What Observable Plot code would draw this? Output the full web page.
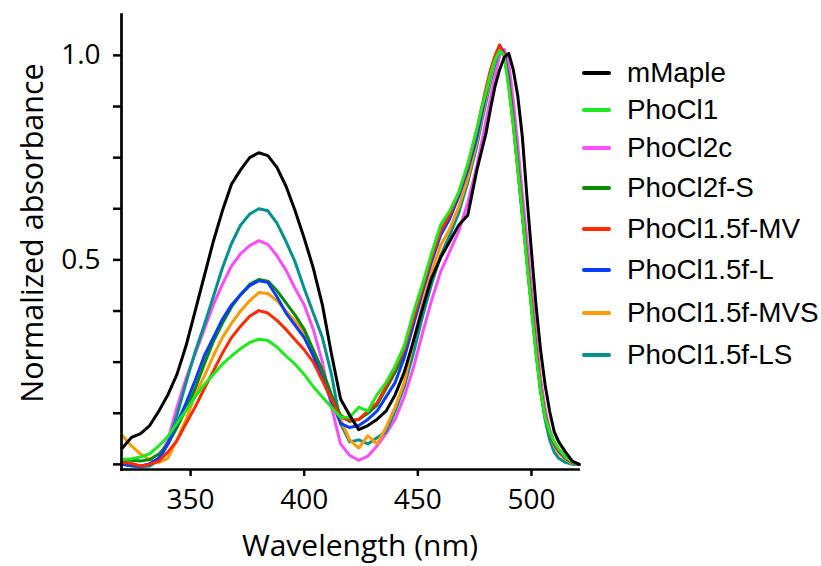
<!DOCTYPE html>
<html><head><meta charset="utf-8">
<script src="https://cdn.jsdelivr.net/npm/d3@7"></script>
<script src="https://cdn.jsdelivr.net/npm/@observablehq/plot@0.6"></script>
<style>
body{margin:0;background:#fff;}
#wrap{position:relative;width:821px;height:566px;overflow:hidden;}
.legline{position:absolute;height:4px;border-radius:2px;}
.legtext{position:absolute;font-family:"Liberation Sans",Arial,sans-serif;font-size:27.8px;line-height:30px;color:#000;white-space:nowrap;}
</style></head><body><div id="wrap"></div><script>
const wavelength = [320,324,328,332,336,340,344,348,352,356,
360,364,368,372,376,380,384,388,392,396,
400,404,408,412,416,420,424,428,432,436,
440,444,448,452,456,460,464,468,472,476,
478,480,482,484,486,488,490,492,494,496,
498,500,502,504,506,508,510,512,515,518,
521];

const seriesNames = ["mMaple","PhoCl1","PhoCl2c","PhoCl2f-S","PhoCl1.5f-MV","PhoCl1.5f-L","PhoCl1.5f-MVS","PhoCl1.5f-LS"];
const seriesColors = ["#000000","#1ee81e","#ff4cff","#078a07","#ff2a00","#0a3cff","#ff9a05","#00908f"];

const mMaple = [0.04,0.066,0.075,0.095,0.13,0.17,0.22,0.29,0.375,0.46,
0.545,0.62,0.685,0.72,0.75,0.762,0.755,0.726,0.68,0.62,
0.553,0.48,0.39,0.27,0.16,0.12,0.085,0.095,0.11,0.13,
0.17,0.225,0.3,0.38,0.455,0.505,0.545,0.585,0.61,0.72,
0.765,0.81,0.87,0.925,0.965,0.995,1.005,0.965,0.9,0.8,
0.655,0.52,0.39,0.28,0.195,0.13,0.08,0.055,0.03,0.008,
0.0];
const PhoCl1 = [0.012,0.014,0.018,0.026,0.045,0.068,0.1,0.132,0.165,0.195,
0.22,0.245,0.265,0.283,0.298,0.306,0.303,0.287,0.265,0.245,
0.22,0.19,0.165,0.14,0.115,0.115,0.14,0.13,0.17,0.2,
0.24,0.29,0.37,0.44,0.515,0.585,0.62,0.665,0.735,0.82,
0.87,0.91,0.955,0.99,1.012,1.0,0.92,0.83,0.72,0.61,
0.49,0.38,0.27,0.18,0.115,0.08,0.055,0.038,0.018,0.006,
0.0];
const PhoCl2c = [0.005,0.0,-0.003,0.0,0.015,0.06,0.14,0.21,0.27,0.33,
0.39,0.44,0.485,0.515,0.535,0.547,0.538,0.51,0.475,0.43,
0.39,0.33,0.25,0.14,0.05,0.022,0.01,0.02,0.045,0.075,
0.11,0.165,0.235,0.32,0.4,0.47,0.52,0.57,0.64,0.73,
0.785,0.84,0.895,0.95,1.0,1.015,0.98,0.89,0.78,0.66,
0.55,0.43,0.315,0.21,0.135,0.085,0.055,0.035,0.018,0.006,
0.0];
const PhoCl2fS = [0.01,0.01,0.008,0.012,0.025,0.05,0.09,0.135,0.185,0.245,
0.3,0.345,0.385,0.415,0.44,0.452,0.448,0.425,0.395,0.365,
0.33,0.28,0.23,0.17,0.12,0.105,0.11,0.125,0.145,0.185,
0.225,0.27,0.35,0.425,0.5,0.565,0.605,0.66,0.725,0.81,
0.86,0.91,0.96,0.995,1.02,1.0,0.935,0.835,0.725,0.61,
0.5,0.385,0.275,0.18,0.115,0.075,0.05,0.033,0.016,0.005,
0.0];
const PhoCl15fMV = [0.005,0.002,-0.004,0.0,0.008,0.03,0.058,0.1,0.14,0.185,
0.228,0.272,0.31,0.338,0.362,0.376,0.37,0.352,0.33,0.305,
0.28,0.25,0.205,0.16,0.115,0.108,0.11,0.13,0.15,0.19,
0.235,0.28,0.355,0.43,0.505,0.57,0.61,0.665,0.73,0.82,
0.87,0.92,0.965,1.0,1.025,1.0,0.93,0.83,0.72,0.61,
0.5,0.39,0.28,0.185,0.12,0.08,0.052,0.035,0.017,0.005,
0.0];
const PhoCl15fL = [0.0,-0.003,-0.005,0.002,0.015,0.05,0.099,0.15,0.205,0.265,
0.31,0.355,0.39,0.415,0.437,0.449,0.445,0.41,0.37,0.34,
0.31,0.265,0.21,0.155,0.1,0.09,0.095,0.11,0.13,0.165,
0.2,0.26,0.34,0.42,0.495,0.56,0.6,0.655,0.72,0.8,
0.855,0.905,0.955,0.995,1.025,1.005,0.94,0.84,0.73,0.615,
0.5,0.39,0.28,0.185,0.12,0.08,0.05,0.033,0.015,0.004,
0.0];
const PhoCl15fMVS = [0.07,0.045,0.025,0.012,0.004,0.015,0.06,0.11,0.17,0.215,
0.265,0.31,0.345,0.375,0.4,0.42,0.418,0.4,0.375,0.35,
0.32,0.275,0.22,0.165,0.11,0.06,0.04,0.07,0.05,0.09,
0.14,0.2,0.3,0.39,0.47,0.535,0.575,0.63,0.7,0.79,
0.845,0.895,0.945,0.99,1.02,1.0,0.94,0.845,0.735,0.62,
0.505,0.395,0.285,0.19,0.12,0.075,0.045,0.028,0.012,0.002,
0.0];
const PhoCl15fLS = [0.0,-0.004,-0.006,-0.004,0.01,0.05,0.12,0.2,0.275,0.34,
0.41,0.48,0.54,0.585,0.612,0.625,0.62,0.59,0.545,0.495,
0.43,0.37,0.31,0.22,0.1,0.055,0.06,0.05,0.065,0.08,
0.13,0.19,0.27,0.36,0.44,0.51,0.56,0.615,0.69,0.78,
0.835,0.885,0.935,0.98,1.015,1.0,0.945,0.85,0.74,0.625,
0.51,0.395,0.28,0.18,0.11,0.06,0.03,0.015,0.005,0.0,
0.0];

const xTicks = [350,400,450,500];
const yTicks = [0,0.125,0.25,0.375,0.5,0.625,0.75,0.875,1];
const yTickLabels = {0.5:"0.5", 1:"1.0"};
const xLabel = "Wavelength (nm)";
const yLabel = "Normalized absorbance";

const seriesValues = [mMaple, PhoCl1, PhoCl2c, PhoCl2fS, PhoCl15fMV, PhoCl15fL, PhoCl15fMVS, PhoCl15fLS];
const rows = [];
seriesValues.forEach((arr, i) => arr.forEach((v, j) => rows.push({series: seriesNames[i], wl: wavelength[j], abs: v})));
const drawOrder = ["PhoCl2c","PhoCl1.5f-LS","PhoCl1.5f-MVS","PhoCl2f-S","PhoCl1.5f-L","PhoCl1.5f-MV","PhoCl1","mMaple"];

const chart = Plot.plot({
  width: 821, height: 566,
  marginLeft: 121, marginRight: 243, marginTop: 14, marginBottom: 97,
  style: {fontFamily: "'Open Sans', sans-serif", fontSize: "28px", color: "#000", background: "#fff"},
  x: {domain: [319.6, 520.7]},
  y: {domain: [-0.0125, 1.1]},
  color: {domain: seriesNames, range: seriesColors},
  marks: [
    ...drawOrder.map(name => Plot.line(rows.filter(d => d.series === name),
      {x: "wl", y: "abs", stroke: "series", strokeWidth: 3, strokeLinejoin: "round"})),
    Plot.axisY({ticks: yTicks, tickFormat: d => yTickLabels[d] ?? "", tickSize: 8, tickPadding: 13, strokeWidth: 2.5, label: null}),
    Plot.axisX({ticks: xTicks, tickSize: 7, tickPadding: 13, strokeWidth: 2.5, label: null}),
    Plot.frame({anchor: "left", strokeWidth: 2.7}),
    Plot.frame({anchor: "bottom", strokeWidth: 2.7}),
    Plot.text([xLabel], {text: d => d, frameAnchor: "bottom", textAnchor: "middle", lineAnchor: "middle", dx: 10, dy: 77, fontSize: 30}),
    Plot.text([yLabel], {text: d => d, frameAnchor: "left", textAnchor: "middle", lineAnchor: "middle", dx: -88, dy: -9, rotate: -90, fontSize: 30.5})
  ]
});
const wrap = document.getElementById("wrap");
wrap.appendChild(chart);

const legendRowY = [73,110,148,188,229,270,313,355];
seriesNames.forEach((name, i) => {
  const ln = document.createElement("div");
  ln.className = "legline";
  ln.style.left = "582px"; ln.style.width = "29px";
  ln.style.top = (legendRowY[i] - 2) + "px";
  ln.style.background = seriesColors[i];
  wrap.appendChild(ln);
  const tx = document.createElement("div");
  tx.className = "legtext";
  tx.style.left = "627px";
  tx.style.top = (legendRowY[i] - 15) + "px";
  tx.textContent = name;
  wrap.appendChild(tx);
});
</script></body></html>
